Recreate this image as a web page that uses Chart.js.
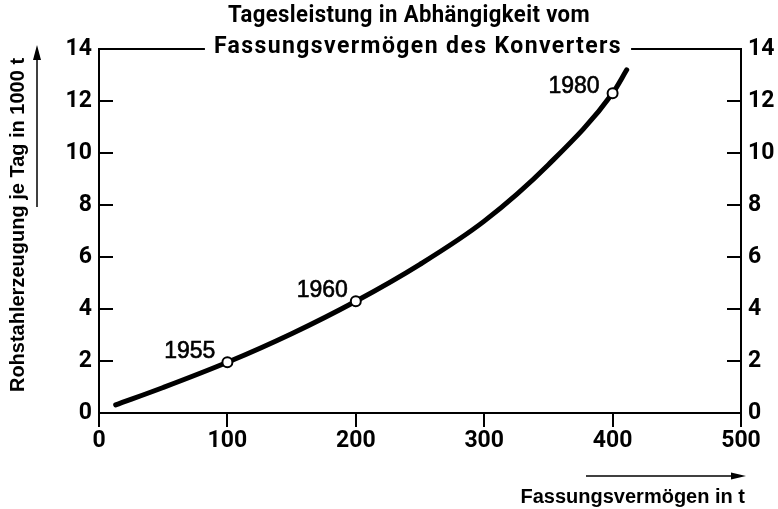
<!DOCTYPE html>
<html>
<head>
<meta charset="utf-8">
<script src="https://cdn.jsdelivr.net/npm/chart.js@4/dist/chart.umd.min.js"></script>
<style>
  html, body { margin: 0; padding: 0; background: #fff; }
  #wrap { width: 778px; height: 509px; }
</style>
</head>
<body>
<div id="wrap"><canvas id="c" width="778" height="509"></canvas></div>
<script>
// ---- data ----
const capacity = [13, 50, 100, 150, 200, 250, 300, 350, 400, 411];
const dailyOutput = [0.31, 0.98, 1.95, 3.05, 4.30, 5.72, 7.38, 9.55, 12.30, 13.20];
const years = ['1955', '1960', '1980'];
const yearCapacity = [100, 200, 400];
const yearOutput = [1.95, 4.30, 12.30];
const xTicks = [0, 100, 200, 300, 400, 500];
const yTicks = [0, 2, 4, 6, 8, 10, 12, 14];
const titleLines = ['Tagesleistung in Abhängigkeit vom', 'Fassungsvermögen des Konverters'];
const yTitle = 'Rohstahlerzeugung je Tag in 1000 t';
const xTitle = 'Fassungsvermögen in t';

const TICK_FONT = 'Roboto, "DejaVu Sans Condensed", sans-serif';
const TEXT_FONT = '"Liberation Sans", Arial, sans-serif';

const curve = capacity.map((x, i) => ({ x, y: dailyOutput[i] }));
const marks = yearCapacity.map((x, i) => ({ x, y: yearOutput[i] }));

const decor = {
  id: 'decor',
  afterDraw(chart) {
    const { ctx, chartArea: a, scales } = chart;
    const ys = scales.y;
    ctx.save();
    ctx.strokeStyle = '#000';
    ctx.fillStyle = '#000';
    // top border
    ctx.lineWidth = 2;
    ctx.beginPath();
    ctx.moveTo(a.left - 1, a.top);
    ctx.lineTo(a.right + 1, a.top);
    ctx.stroke();
    // inner y ticks (left and right)
    yTicks.forEach(v => {
      const py = ys.getPixelForValue(v);
      ctx.beginPath();
      ctx.moveTo(a.left, py); ctx.lineTo(a.left + 14, py);
      ctx.moveTo(a.right, py); ctx.lineTo(a.right - 14, py);
      ctx.stroke();
    });
    // title
    ctx.textAlign = 'center';
    ctx.textBaseline = 'middle';
    ctx.font = 'bold 23px ' + TICK_FONT;
    ctx.letterSpacing = '1.4px';
    const w2 = Math.min(ctx.measureText(titleLines[1]).width, 409);
    ctx.fillStyle = '#fff';
    ctx.fillRect(418 - w2 / 2 - 9, a.top - 4, w2 + 18, 8);
    ctx.fillStyle = '#000';
    ctx.fillText(titleLines[1], 418, 47, 409);
    ctx.letterSpacing = '0.4px';
    ctx.fillText(titleLines[0], 409, 16, 362);
    ctx.letterSpacing = '0px';
    // year labels
    const meta = chart.getDatasetMeta(0);
    ctx.font = '23px ' + TEXT_FONT;
    ctx.textAlign = 'right';
    ctx.textBaseline = 'alphabetic';
    ctx.lineWidth = 0.6;
    const offs = [[-12, -4], [-8, -4], [-13, 0]];
    meta.data.forEach((el, i) => {
      ctx.fillText(years[i], el.x + offs[i][0], el.y + offs[i][1]);
      ctx.strokeText(years[i], el.x + offs[i][0], el.y + offs[i][1]);
    });
    // y axis title + arrow
    ctx.save();
    ctx.translate(18, 225);
    ctx.rotate(-Math.PI / 2);
    ctx.font = 'bold 20px ' + TEXT_FONT;
    ctx.textAlign = 'center';
    ctx.textBaseline = 'middle';
    ctx.fillText(yTitle, 0, 0);
    ctx.restore();
    ctx.lineWidth = 1.5;
    ctx.beginPath();
    ctx.moveTo(37, 207); ctx.lineTo(37, 56);
    ctx.stroke();
    ctx.beginPath();
    ctx.moveTo(37, 45); ctx.lineTo(33, 60); ctx.lineTo(41, 60); ctx.closePath();
    ctx.fill();
    // x axis title + arrow
    ctx.font = 'bold 20px ' + TEXT_FONT;
    ctx.textAlign = 'right';
    ctx.textBaseline = 'middle';
    ctx.fillText(xTitle, 745, 497);
    ctx.beginPath();
    ctx.moveTo(586, 476); ctx.lineTo(733, 476);
    ctx.stroke();
    ctx.beginPath();
    ctx.moveTo(746, 476); ctx.lineTo(731, 472.5); ctx.lineTo(731, 479.5); ctx.closePath();
    ctx.fill();
    ctx.restore();
  }
};

const yAxisCommon = {
  type: 'linear', min: 0, max: 14,
  afterBuildTicks: s => { s.ticks = yTicks.map(v => ({ value: v })); },
  grid: { display: true, drawOnChartArea: false, drawTicks: false, color: '#000', lineWidth: 2 },
  border: { display: true, color: '#000', width: 2 },
  ticks: { color: '#000', font: { family: TICK_FONT, size: 23, weight: 'bold' }, padding: 7 }
};

new Chart(document.getElementById('c'), {
  type: 'scatter',
  data: {
    datasets: [
      {
        data: marks, order: 0, showLine: false,
        pointRadius: 5, pointHoverRadius: 5,
        pointBackgroundColor: '#fff', pointBorderColor: '#000', pointBorderWidth: 2
      },
      {
        data: curve, order: 1, showLine: true,
        borderColor: '#000', borderWidth: 5, borderCapStyle: 'round',
        pointRadius: 0, tension: 0.4, cubicInterpolationMode: 'monotone'
      }
    ]
  },
  options: {
    responsive: false, animation: false, devicePixelRatio: 1,
    layout: { padding: { top: 49, left: 0, right: 0, bottom: 0 } },
    plugins: { legend: { display: false }, tooltip: { enabled: false }, title: { display: false } },
    scales: {
      x: {
        type: 'linear', min: 0, max: 500,
        afterBuildTicks: s => { s.ticks = xTicks.map(v => ({ value: v })); },
        afterFit: s => { s.height = 96; },
        grid: { display: true, drawOnChartArea: false, drawTicks: true, tickLength: 14, color: '#000', lineWidth: 2 },
        border: { display: true, color: '#000', width: 2 },
        ticks: { color: '#000', font: { family: TICK_FONT, size: 23, weight: 'bold' }, padding: 0, maxRotation: 0 }
      },
      y: Object.assign({}, yAxisCommon, { position: 'left', afterFit: s => { s.width = 99; } }),
      y2: Object.assign({}, yAxisCommon, { position: 'right', afterFit: s => { s.width = 37; } })
    }
  },
  plugins: [decor]
});
</script>
</body>
</html>
